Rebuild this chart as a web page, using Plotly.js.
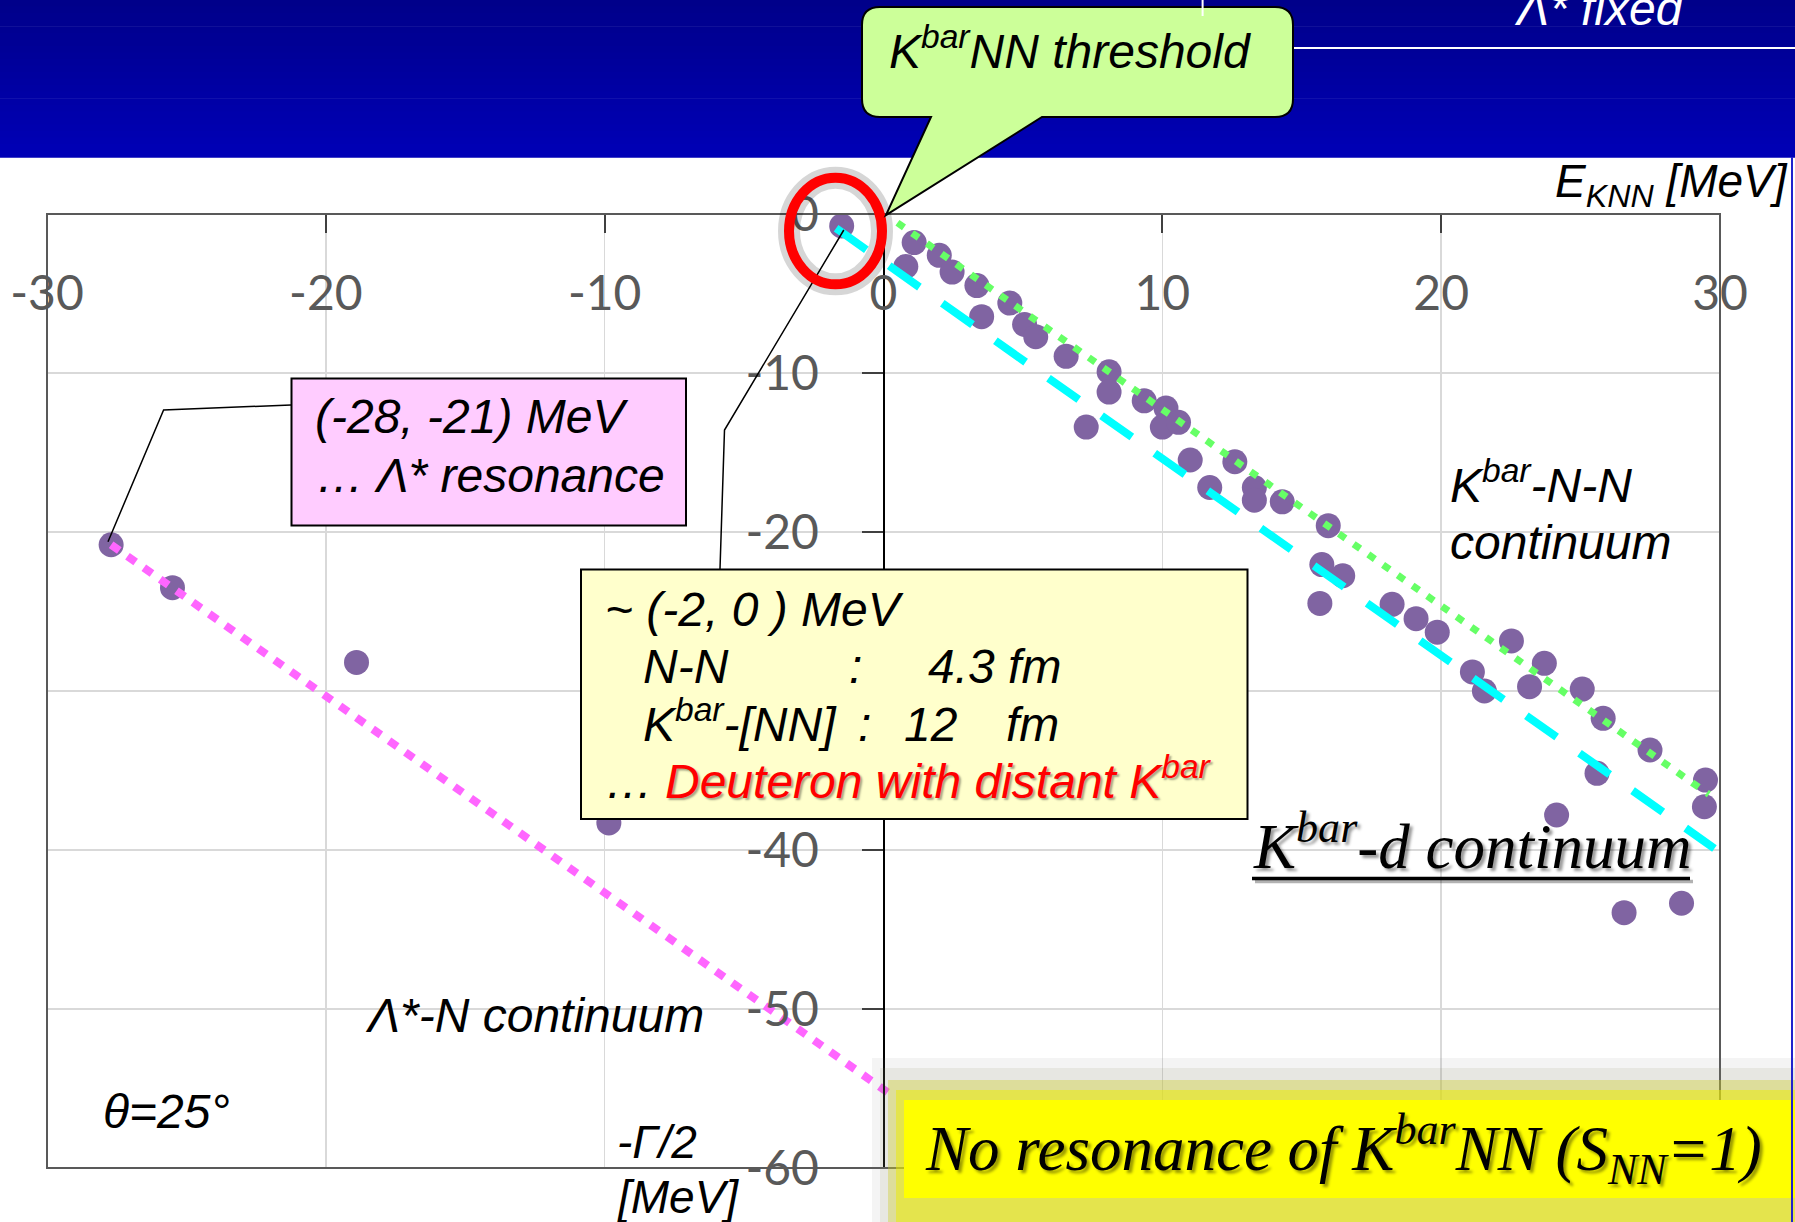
<!DOCTYPE html>
<html><head><meta charset="utf-8">
<script src="https://cdn.plot.ly/plotly-3.0.1.min.js"></script>
<style>html,body{margin:0;padding:0;background:#fff;overflow:hidden}#chart{width:1795px;height:1222px}</style>
</head><body><div id="chart"></div><script>
// ---- data ----
const ptsX = [-27.7,-25.5,-18.9,-9.85,-1.5,
  1.1,0.8,2.0,2.46,3.35,3.52,4.53,5.06,5.46,6.55,8.09,8.09,7.27,9.35,10.13,10.0,10.58,
  11.0,12.6,11.7,13.3,13.3,14.3,15.95,15.72,16.47,15.65,18.24,19.1,19.86,22.52,23.7,
  21.12,23.17,21.55,25.06,25.81,27.49,25.59,29.48,29.44,24.14,26.56,28.62];
const ptsY = [-20.8,-23.5,-28.2,-38.3,-0.75,
  -1.8,-3.3,-2.6,-3.65,-4.5,-6.46,-5.6,-6.95,-7.72,-8.95,-9.92,-11.2,-13.4,-11.75,-12.2,-13.4,-13.1,
  -15.47,-15.58,-17.2,-17.2,-18.0,-18.1,-19.6,-22.05,-22.75,-24.49,-24.55,-25.45,-26.3,-26.85,-28.26,
  -28.8,-29.73,-30.0,-29.88,-31.72,-33.71,-35.18,-35.6,-37.28,-37.8,-43.94,-43.35];
const lamNX = [-27.7, 0.2],  lamNY = [-20.8, -55.3];   // Λ*-N continuum line
const kdX   = [-1.7, 29.8],  kdY   = [-0.9, -39.9];    // Kbar-d continuum line
const knnX  = [0.5, 29.6],   knnY  = [-0.55, -36.5];   // Kbar-N-N continuum line
const xTickVals = [-30,-20,-10,0,10,20,30];
const xTickText = ['-30','-20','-10','0','10','20','30'];
const yTickVals = [-60,-50,-40,-30,-20,-10,0];
const yTickText = ['-60','-50','-40','-30','-20','-10','0'];

// ---- geometry helpers (pixel -> paper) ----
const L=47, R=1720, T=214, B=1168;
const X = p => (p - L)/(R - L);
const Y = p => (B - p)/(B - T);

function txt(text, left, baseline, o) {
  o = o || {};
  const s = o.size || 48, serif = !!o.serif;
  const desc = serif ? 0.216 : 0.212;
  const bottom = baseline + (o.sub ? (0.21 + desc*0.7) : desc) * s;
  return {xref:'paper', yref:'paper', x:X(left), y:Y(bottom), xanchor:'left', yanchor:'bottom',
    text:text, showarrow:false, borderpad:0, borderwidth:0, align:'left',
    font:{family: serif ? 'Liberation Serif' : 'Liberation Sans', size:s, color:o.color||'#000',
      style:'italic', shadow:o.shadow||'none'}};
}
function rect(x0,y0,x1,y1,fill,lw,lc,layer){
  return {type:'rect', xref:'paper', yref:'paper', x0:X(x0), x1:X(x1), y0:Y(y1), y1:Y(y0),
    fillcolor:fill, line:{width:lw||0, color:lc||'rgba(0,0,0,0)'}, layer:layer||'above'};
}
function poly(pts, color, w){
  const d = pts.map((p,i)=>(i?'L ':'M ')+X(p[0])+','+Y(p[1])).join(' ');
  return {type:'path', xref:'paper', yref:'paper', path:d, line:{color:color, width:w}, fillcolor:'rgba(0,0,0,0)', layer:'above'};
}

const shapes = [];
// top blue band (gradient)
const NB = 24;
for (let i=0;i<NB;i++){
  const y0 = i*157/NB, y1 = (i+1)*157/NB;
  const b = Math.round(138 + (i/(NB-1))*(182-138));
  shapes.push(rect(-5, i===0 ? -5 : y0, 1800, y1+0.7, 'rgb(0,0,'+b+')', 0, null, 'below'));
}
// plot frame
shapes.push(rect(L, T, R, B, 'rgba(0,0,0,0)', 2, '#595959', 'above'));
// pink box + connector
shapes.push(rect(291.5, 378.5, 686, 525.5, '#FFCCFF', 2, '#000'));
shapes.push(poly([[291,405],[163.6,410],[108,541.7]], '#000', 1.5));
// yellow info box + connector
shapes.push(rect(581, 569.5, 1247.5, 819, '#FFFFCC', 2, '#000'));
shapes.push(poly([[720,569],[724.5,430],[843.8,230]], '#000', 1.5));
// red ellipse with soft shadow
shapes.push({type:'circle', xref:'paper', yref:'paper', x0:X(789), x1:X(882), y0:Y(284.3), y1:Y(177.7),
  line:{color:'rgba(0,0,0,0.16)', width:22}, fillcolor:'rgba(0,0,0,0)', layer:'above'});
shapes.push({type:'circle', xref:'paper', yref:'paper', x0:X(789), x1:X(882), y0:Y(284.3), y1:Y(177.7),
  line:{color:'#FF0000', width:10}, fillcolor:'rgba(0,0,0,0)', layer:'above'});
// green callout
(function(){
  const r=18, a=862, b=1293, c=7, d=117;
  const P = (x,y)=>X(x)+','+Y(y);
  const path = 'M '+P(a+r,c)+' L '+P(b-r,c)+' Q '+P(b,c)+' '+P(b,c+r)+' L '+P(b,d-r)+' Q '+P(b,d)+' '+P(b-r,d)+
    ' L '+P(1042,d)+' L '+P(886,215)+' L '+P(931,d)+' L '+P(a+r,d)+' Q '+P(a,d)+' '+P(a,d-r)+
    ' L '+P(a,c+r)+' Q '+P(a,c)+' '+P(a+r,c)+' Z';
  shapes.push({type:'path', xref:'paper', yref:'paper', path:path, fillcolor:'#CCFF99', line:{color:'#000', width:2}, layer:'above'});
})();
// underline of "Kbar-d continuum" (with shadow)
shapes.push(poly([[1255,881.5],[1693,881.5]], 'rgba(0,0,0,0.3)', 3.5));
shapes.push(poly([[1252,878.5],[1690,878.5]], '#000000', 3.5));
// glow + yellow conclusion box
shapes.push(rect(872,1058,1800,1230,'rgba(120,120,120,0.08)'));
shapes.push(rect(880,1068,1800,1230,'rgba(140,140,100,0.12)'));
shapes.push(rect(888,1080,1800,1230,'rgba(205,205,40,0.38)'));
shapes.push(rect(896,1090,1800,1230,'rgba(235,235,0,0.5)'));
shapes.push(rect(904,1100,1800,1198,'#FFFF00'));
// white lines in header and blue right edge
shapes.push(poly([[1294,48],[1800,48]], '#FFFFFF', 2));
shapes.push(poly([[1202.6,-2],[1202.6,16]], '#FFFFFF', 2));
shapes.push(poly([[1792,157],[1792,1230]], '#2222CC', 2));

const shadowS = '2px 2px 2px rgba(0,0,0,0.35)';
const annotations = [
  txt('K<sup>bar</sup>NN threshold', 889, 68.3),
  txt('(-28, -21) MeV', 314.6, 433.3),
  txt('\u2026 \u039B* resonance', 316, 491.7),
  txt('~ (-2, 0 ) MeV', 605, 626),
  txt('N-N', 643, 683.3), txt(':', 849, 683.3), txt('4.3 fm', 928, 683.3),
  txt('K<sup>bar</sup>-[NN]', 643, 740.7), txt(':', 858, 740.7), txt('12', 904, 740.7), txt('fm', 1006, 740.7),
  txt('\u2026', 605, 798.3),
  txt('Deuteron with distant K<sup>bar</sup>', 665, 798.3, {color:'#FF0000', shadow:shadowS}),
  txt('K<sup>bar</sup>-N-N', 1450, 501.7),
  txt('continuum', 1450, 559),
  txt('K<sup>bar</sup>-d continuum', 1252.6, 868.3, {serif:true, size:63, shadow:'3px 3px 3px rgba(0,0,0,0.4)'}),
  txt('\u039B*-N continuum', 364.5, 1031.7),
  txt('\u03B8=25\u00B0', 103, 1128.3),
  txt('-\u0393/2', 617, 1158.3, {size:46}),
  txt('[MeV]', 617, 1213, {size:46}),
  txt('E<sub>KNN</sub> [MeV]', 1555, 198, {size:46, sub:true}),
  txt('\u039B* fixed', 1514, 25, {color:'#FFFFFF'}),
  txt('No resonance of K<sup>bar</sup>NN (S<sub>NN</sub>=1)', 925, 1171.7, {serif:true, size:63, sub:true, shadow:'3px 3px 3px rgba(0,0,0,0.4)'})
];

const tickFont = {family:'Lato', size:48, color:'#595959'};
const traces = [
  {type:'scatter', mode:'markers', x:ptsX, y:ptsY, marker:{color:'#8064A2', size:25, line:{width:0}}, cliponaxis:false, hoverinfo:'skip'},
  {type:'scatter', mode:'lines', x:lamNX, y:lamNY, line:{color:'#FF66FF', width:8, dash:'10px,10px'}, cliponaxis:false, hoverinfo:'skip'},
  {type:'scatter', mode:'lines', x:kdX, y:kdY, line:{color:'#00FFFF', width:8, dash:'37px,28px'}, cliponaxis:false, hoverinfo:'skip'},
  {type:'scatter', mode:'lines', x:knnX, y:knnY, line:{color:'#66FF66', width:7, dash:'8px,10px'}, cliponaxis:false, hoverinfo:'skip'}
];

const layout = {
  width:1795, height:1222,
  margin:{l:L, r:1795-R, t:T, b:1222-B, pad:0},
  paper_bgcolor:'#FFFFFF', plot_bgcolor:'#FFFFFF',
  showlegend:false,
  xaxis:{range:[-30,30], tickmode:'array', tickvals:xTickVals, ticktext:xTickText,
    anchor:'free', position:1, side:'bottom', ticks:'outside', ticklen:18, tickwidth:2, tickcolor:'#404040',
    showline:false, zeroline:false, showgrid:true, gridcolor:'#D9D9D9', gridwidth:1.5,
    tickfont:tickFont, ticklabelstandoff:19, fixedrange:true},
  yaxis:{range:[-60,0], tickmode:'array', tickvals:yTickVals, ticktext:yTickText,
    anchor:'free', position:0.5, side:'left', ticks:'outside', ticklen:21, tickwidth:2, tickcolor:'#404040',
    showline:true, linecolor:'#000000', linewidth:2, zeroline:false, showgrid:true, gridcolor:'#D9D9D9', gridwidth:1.5,
    tickfont:tickFont, ticklabelstandoff:33, fixedrange:true},
  shapes:shapes,
  annotations:annotations
};
Plotly.newPlot('chart', traces, layout, {displayModeBar:false, staticPlot:true});
</script></body></html>
